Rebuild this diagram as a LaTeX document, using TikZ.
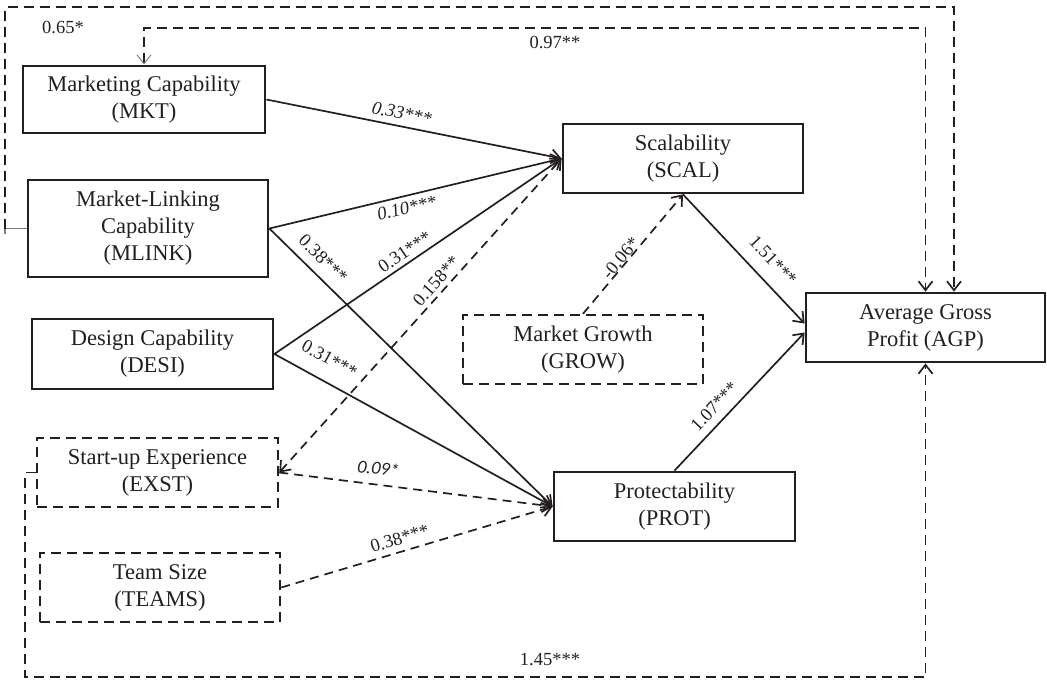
\documentclass[tikz,border=0pt]{standalone}
\usepackage{fontspec}
\setmainfont{Liberation Serif}
\newfontfamily\carl{Carlito}
\usetikzlibrary{arrows.meta,calc}
\definecolor{ink}{HTML}{231F20}
\tikzset{
  nbox/.style={draw=ink, text=ink, line width=2.8pt, minimum width=240pt, minimum height=69pt,
    align=center, inner sep=0pt, font=\fontsize{22.5}{27}\selectfont},
  dbox/.style={nbox, line width=2.5pt, dash pattern=on 10pt off 6pt},
  tip/.style={-{Straight Barb[length=9pt,width=14pt]}},
  conn/.style={draw=ink, line width=1.7pt, tip},
  dconn/.style={conn, dash pattern=on 9pt off 6pt},
  lab/.style={text=ink, font=\fontsize{18.5}{22}\selectfont, inner sep=1pt, sloped},
  labi/.style={lab, font=\fontsize{18.5}{22}\selectfont\itshape},
  free/.style={text=ink, font=\fontsize{18.5}{22}\selectfont, inner sep=0pt},
}
\begin{document}
\begin{tikzpicture}[x=1pt, y=-1pt]
\useasboundingbox (0,0) rectangle (1047,681);

% nodes
\node[nbox, minimum width=242pt, minimum height=67pt] (mkt) at (144,99.5) {Marketing Capability\\(MKT)};
\node[nbox, minimum height=97pt] (mlink) at (148,228.5) {Market-Linking\\Capability\\(MLINK)};
\node[nbox, minimum width=241pt, minimum height=70pt] (desi) at (152.5,354) {Design Capability\\(DESI)};
\node[dbox, minimum width=241pt] (exst) at (157.5,472.5) {Start-up Experience\\(EXST)};
\node[dbox] (teams) at (160,587.5) {Team Size\\(TEAMS)};
\node[nbox] (scal) at (683,158.5) {Scalability\\(SCAL)};
\node[dbox] (grow) at (583,349.5) {Market Growth\\(GROW)};
\node[nbox, minimum width=241pt] (prot) at (674.5,506.5) {Protectability\\(PROT)};
\node[nbox, minimum width=239pt] (agp) at (925.5,327.5) {Average Gross\\Profit (AGP)};

% coordinates for the long routed paths
\coordinate (o1) at (5,228.5);
\coordinate (o2) at (5,7);
\coordinate (o3) at (954,7);
\coordinate (i1) at (144,28);
\coordinate (b1) at (25,472.5);
\coordinate (b2) at (25,677);

% direct paths
\draw[conn] (mkt.east) -- node[labi, above=5pt, pos=0.45] {0.33***} (scal.west);
\draw[conn] (mlink.east) -- node[labi, below=4pt, pos=0.46] {0.10***} (scal.west);
\draw[conn] (mlink.east) -- node[lab, above=8pt, pos=0.15] {0.38***} (prot.west);
\draw[conn] (desi.east) -- node[lab, above=3pt, pos=0.476] {0.31***} (scal.west);
\draw[conn] (desi.east) -- node[lab, above=14pt, pos=0.16] {0.31***} (prot.west);
\draw[dconn, {Straight Barb[length=9pt,width=14pt]}-{Straight Barb[length=9pt,width=14pt]}]
  (exst.east) -- node[lab, above=3pt, pos=0.585] {0.158**} (scal.west);
\draw[dconn] (exst.east) -- node[lab, above=8pt, pos=0.355, font=\fontsize{18.5}{22}\carl\itshape] {0.09*} (prot.west);
\draw[dconn] (teams.east) -- node[lab, above=5pt, pos=0.45] {0.38***} (prot.west);
\draw[dconn] (grow.north) -- node[lab, above=-1pt, pos=0.43] {-0.06*} (scal.south);
\draw[conn] (scal.south) -- node[lab, above=12pt, pos=0.62] {1.51***} ($(agp.west)+(0,-4)$);
\draw[conn] (prot.north) -- node[lab, above=7pt, pos=0.39] {1.07***} ($(agp.west)+(0,5)$);

% routed paths
\draw[gray, line width=1.2pt] (mlink.west) -- (o1);
\draw[gray, line width=1.2pt] ($(o1)+(0,-5)$) -- ($(o1)+(0,5)$);
\draw[dconn, dash pattern=on 10pt off 6pt] (o1) -- (o2) -- (o3) -- (agp.north -| o3);
\draw[dconn, dash pattern=on 10pt off 6pt,
  {Straight Barb[length=9pt,width=14pt,color=gray,line width=1pt]}-{Straight Barb[length=9pt,width=14pt]}]
  (mkt.north) -- (i1) -- (agp.north |- i1) -- (agp.north);
\draw[dconn, dash pattern=on 10pt off 6pt] (exst.west) -- (b1) -- (b2) -| (agp.south);

% free labels
\node[free] (l1) at (63,27) {0.65*};
\node[free] (l2) at (555,42) {0.97**};
\node[free] (l3) at (550,660) {1.45***};
\end{tikzpicture}
\end{document}
